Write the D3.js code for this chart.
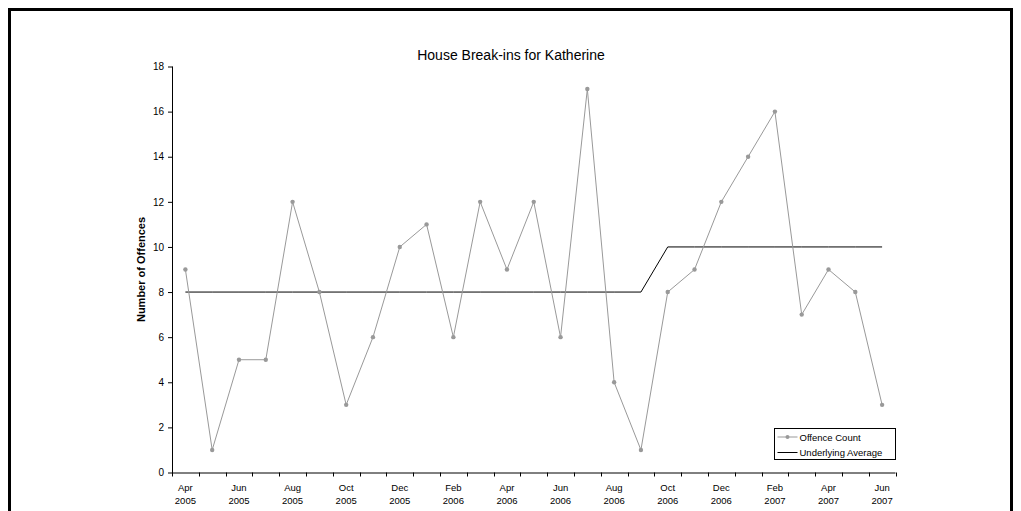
<!DOCTYPE html>
<html>
<head>
<meta charset="utf-8">
<script src="https://cdn.jsdelivr.net/npm/d3@7"></script>
<style>
  body { margin: 0; background: #fff; }
  text { font-family: Arial, "Liberation Sans", sans-serif; }
</style>
</head>
<body>
<div id="chart"></div>
<script>
// months shown on the x axis (one per category)
var months = ["Apr 2005", "May 2005", "Jun 2005", "Jul 2005", "Aug 2005", "Sep 2005", "Oct 2005",
  "Nov 2005", "Dec 2005", "Jan 2006", "Feb 2006", "Mar 2006", "Apr 2006", "May 2006", "Jun 2006",
  "Jul 2006", "Aug 2006", "Sep 2006", "Oct 2006", "Nov 2006", "Dec 2006", "Jan 2007", "Feb 2007",
  "Mar 2007", "Apr 2007", "May 2007", "Jun 2007"];
var offenceCount = [9, 1, 5, 5, 12, 8, 3, 6, 10, 11, 6, 12, 9, 12, 6, 17, 4, 1, 8, 9, 12, 14, 16, 7, 9, 8, 3];
var underlyingAverage = [8, 8, 8, 8, 8, 8, 8, 8, 8, 8, 8, 8, 8, 8, 8, 8, 8, 8, 10, 10, 10, 10, 10, 10, 10, 10, 10];
var yTicks = [0, 2, 4, 6, 8, 10, 12, 14, 16, 18];

var width = 1021, height = 511;
// plot area edges
var plotLeft = 172, plotRight = 895.5, plotTop = 66.5, plotBottom = 472.5;

var svg = d3.select("#chart").append("svg")
  .attr("width", width)
  .attr("height", height);

// outer frame (bottom edge lies outside the picture)
svg.append("rect")
  .attr("x", 9.5).attr("y", 9.5)
  .attr("width", 1002).attr("height", 520)
  .style("fill", "none").style("stroke", "#000").style("stroke-width", 3);

var x = d3.scaleBand().domain(months).range([plotLeft, plotRight]).padding(0);
var y = d3.scaleLinear().domain([0, 18]).range([plotBottom, plotTop]);
var cx = function (m) { return x(m) + x.bandwidth() / 2; };

// title
svg.append("text")
  .attr("x", 511).attr("y", 60)
  .attr("text-anchor", "middle")
  .style("font-size", "14px")
  .text("House Break-ins for Katherine");

// y axis
var yAxis = svg.append("g")
  .attr("transform", "translate(" + plotLeft + ",0)")
  .call(d3.axisLeft(y).tickValues(yTicks).tickSize(4).tickPadding(4));
yAxis.select(".domain").attr("d", "M0.5," + plotTop + "V" + (plotBottom + 0.5));
yAxis.selectAll("text").style("font-size", "10px").style("font-family", "Arial, 'Liberation Sans', sans-serif").attr("fill", "#000");
yAxis.selectAll("line").attr("x1", 0.5);

svg.append("text")
  .attr("transform", "translate(145," + ((plotTop + plotBottom) / 2) + ") rotate(-90)")
  .attr("text-anchor", "middle")
  .style("font-size", "11px")
  .style("font-weight", "bold")
  .text("Number of Offences");

// x axis: line with ticks at category boundaries
var xg = svg.append("g");
xg.append("line")
  .attr("x1", plotLeft).attr("x2", plotRight)
  .attr("y1", plotBottom + 0.5).attr("y2", plotBottom + 0.5)
  .style("stroke", "#000");
var bounds = months.map(function (m) { return x(m); }).concat([plotRight]);
xg.selectAll("line.tick")
  .data(bounds)
  .enter().append("line")
  .attr("class", "tick")
  .attr("x1", function (d) { return Math.round(d) + 0.5; })
  .attr("x2", function (d) { return Math.round(d) + 0.5; })
  .attr("y1", plotBottom).attr("y2", plotBottom + 4)
  .style("stroke", "#000");

var labels = xg.selectAll("text.month")
  .data(months.filter(function (d, i) { return i % 2 === 0; }))
  .enter().append("text")
  .attr("class", "month")
  .attr("text-anchor", "middle")
  .style("font-size", "9.5px");
labels.append("tspan")
  .attr("x", cx).attr("y", 491)
  .text(function (d) { return d.split(" ")[0]; });
labels.append("tspan")
  .attr("x", cx).attr("y", 504)
  .text(function (d) { return d.split(" ")[1]; });

// series
var seriesLine = d3.line()
  .x(function (d, i) { return cx(months[i]); })
  .y(function (d) { return y(d); });

svg.append("path")
  .datum(underlyingAverage)
  .attr("d", seriesLine)
  .style("fill", "none")
  .style("stroke", "#000")
  .style("stroke-width", 1);

svg.append("path")
  .datum(offenceCount)
  .attr("d", seriesLine)
  .style("fill", "none")
  .style("stroke", "#999")
  .style("stroke-width", 1);

svg.selectAll("circle.pt")
  .data(offenceCount)
  .enter().append("circle")
  .attr("class", "pt")
  .attr("cx", function (d, i) { return cx(months[i]); })
  .attr("cy", function (d) { return y(d); })
  .attr("r", 2.2)
  .style("fill", "#999");

// legend
var legend = svg.append("g").attr("transform", "translate(774.5,428.5)");
legend.append("rect")
  .attr("width", 121).attr("height", 31)
  .style("fill", "#fff").style("stroke", "#000");
legend.append("line")
  .attr("x1", 3).attr("x2", 23).attr("y1", 8.5).attr("y2", 8.5)
  .style("stroke", "#999");
legend.append("circle").attr("cx", 13).attr("cy", 8.5).attr("r", 2).style("fill", "#999");
legend.append("line")
  .attr("x1", 3).attr("x2", 23).attr("y1", 24).attr("y2", 24)
  .style("stroke", "#000");
legend.append("text").attr("x", 25).attr("y", 12).style("font-size", "9.5px").text("Offence Count");
legend.append("text").attr("x", 25).attr("y", 27.5).style("font-size", "9.5px").text("Underlying Average");
</script>
</body>
</html>
